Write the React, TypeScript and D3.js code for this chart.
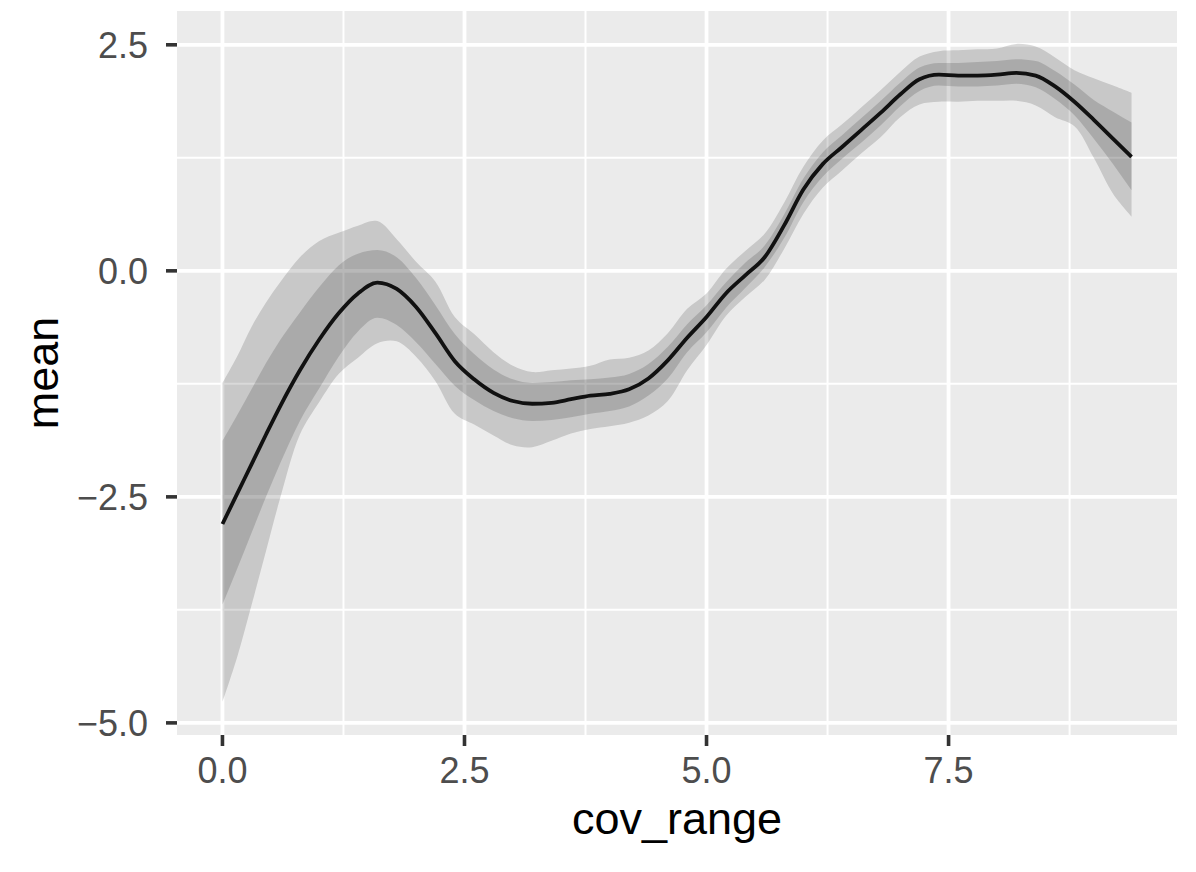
import React from "react";
import * as d3 from "d3";

const xs = [0, 0.15, 0.3, 0.45, 0.6, 0.8, 1.0, 1.2, 1.4, 1.6, 1.8, 2.0, 2.2, 2.4, 2.6, 2.8, 3.0, 3.2, 3.4, 3.6, 3.8, 4.0, 4.2, 4.4, 4.6, 4.8, 5.0, 5.2, 5.4, 5.6, 5.8, 6.0, 6.2, 6.4, 6.6, 6.8, 7.0, 7.2, 7.4, 7.6, 7.8, 8.0, 8.2, 8.4, 8.6, 8.8, 9.0, 9.2, 9.39];

const meanVals = [-2.80, -2.47, -2.14, -1.81, -1.49, -1.10, -0.76, -0.47, -0.25, -0.13, -0.20, -0.40, -0.69, -1.00, -1.20, -1.35, -1.44, -1.47, -1.46, -1.42, -1.38, -1.36, -1.31, -1.19, -0.99, -0.74, -0.51, -0.25, -0.05, 0.15, 0.50, 0.90, 1.18, 1.37, 1.56, 1.75, 1.95, 2.12, 2.17, 2.16, 2.16, 2.17, 2.19, 2.16, 2.04, 1.87, 1.67, 1.46, 1.26];

const innerUpper = [-1.88, -1.60, -1.31, -1.02, -0.76, -0.46, -0.18, 0.06, 0.19, 0.23, 0.15, -0.08, -0.38, -0.70, -0.92, -1.09, -1.20, -1.24, -1.23, -1.21, -1.20, -1.18, -1.14, -1.03, -0.84, -0.59, -0.38, -0.13, 0.09, 0.28, 0.62, 1.02, 1.31, 1.50, 1.69, 1.88, 2.08, 2.25, 2.30, 2.30, 2.31, 2.32, 2.34, 2.32, 2.21, 2.06, 1.89, 1.76, 1.64];

const innerLower = [-3.69, -3.30, -2.90, -2.50, -2.12, -1.66, -1.30, -0.95, -0.67, -0.52, -0.60, -0.79, -1.03, -1.27, -1.43, -1.55, -1.63, -1.66, -1.65, -1.62, -1.58, -1.55, -1.50, -1.38, -1.19, -0.90, -0.68, -0.41, -0.19, 0.04, 0.36, 0.76, 1.04, 1.24, 1.42, 1.61, 1.82, 1.99, 2.05, 2.04, 2.04, 2.05, 2.07, 2.03, 1.90, 1.72, 1.46, 1.18, 0.89];

const outerUpper = [-1.24, -0.95, -0.62, -0.35, -0.12, 0.15, 0.33, 0.42, 0.50, 0.55, 0.35, 0.10, -0.12, -0.51, -0.70, -0.90, -1.05, -1.12, -1.10, -1.08, -1.05, -0.98, -0.96, -0.88, -0.69, -0.42, -0.25, 0.02, 0.22, 0.41, 0.75, 1.15, 1.44, 1.62, 1.81, 2.00, 2.20, 2.37, 2.43, 2.44, 2.45, 2.46, 2.51, 2.48, 2.36, 2.22, 2.13, 2.05, 1.97];

const outerLower = [-4.77, -4.28, -3.70, -3.10, -2.50, -1.81, -1.45, -1.14, -0.96, -0.80, -0.78, -0.95, -1.22, -1.58, -1.70, -1.82, -1.93, -1.95, -1.88, -1.80, -1.75, -1.72, -1.68, -1.60, -1.44, -1.10, -0.82, -0.50, -0.29, -0.10, 0.24, 0.63, 0.92, 1.11, 1.30, 1.48, 1.70, 1.84, 1.87, 1.87, 1.88, 1.88, 1.88, 1.83, 1.70, 1.60, 1.25, 0.85, 0.60];

const xMajor = [0, 2.5, 5, 7.5];
const xMinor = [1.25, 3.75, 6.25, 8.75];
const yMajor = [-5, -2.5, 0, 2.5];
const yMinor = [-3.75, -1.25, 1.25];
const xTickLabels = ["0.0", "2.5", "5.0", "7.5"];
const yTickLabels = ["\u22125.0", "\u22122.5", "0.0", "2.5"];

const W = 1196;
const H = 872;
const panel = { left: 177, right: 1177, top: 11, bottom: 735 };

export default function App() {
  const xMin = d3.min(xs)!;
  const xMax = d3.max(xs)!;
  const xPad = (xMax - xMin) * 0.05;
  const yMin = d3.min(outerLower)!;
  const yMax = d3.max(outerUpper)!;
  const yPad = (yMax - yMin) * 0.05;

  const x = d3.scaleLinear().domain([xMin - xPad, xMax + xPad]).range([panel.left, panel.right]);
  const y = d3.scaleLinear().domain([yMin - yPad, yMax + yPad]).range([panel.bottom, panel.top]);

  const idx = xs.map((_, i) => i);
  const areaOuter = d3.area<number>()
    .x((i) => x(xs[i]))
    .y0((i) => y(outerLower[i]))
    .y1((i) => y(outerUpper[i]))
    .curve(d3.curveCatmullRom.alpha(0.5));
  const areaInner = d3.area<number>()
    .x((i) => x(xs[i]))
    .y0((i) => y(innerLower[i]))
    .y1((i) => y(innerUpper[i]))
    .curve(d3.curveMonotoneX);
  const line = d3.line<number>()
    .x((i) => x(xs[i]))
    .y((i) => y(meanVals[i]))
    .curve(d3.curveMonotoneX);

  const font = "'Liberation Sans', Arial, Helvetica, sans-serif";

  return (
    <div style={{ position: "absolute", left: 0, top: 0 }}>
      <svg width={W} height={H} style={{ display: "block", background: "#FFFFFF" }}>
        <rect x={panel.left} y={panel.top} width={panel.right - panel.left} height={panel.bottom - panel.top} fill="#EBEBEB" />
        {xMinor.map((v) => (
          <line key={"xm" + v} x1={x(v)} x2={x(v)} y1={panel.top} y2={panel.bottom} stroke="#FFFFFF" strokeWidth={2} />
        ))}
        {yMinor.map((v) => (
          <line key={"ym" + v} x1={panel.left} x2={panel.right} y1={y(v)} y2={y(v)} stroke="#FFFFFF" strokeWidth={2} />
        ))}
        {xMajor.map((v) => (
          <line key={"xM" + v} x1={x(v)} x2={x(v)} y1={panel.top} y2={panel.bottom} stroke="#FFFFFF" strokeWidth={3.8} />
        ))}
        {yMajor.map((v) => (
          <line key={"yM" + v} x1={panel.left} x2={panel.right} y1={y(v)} y2={y(v)} stroke="#FFFFFF" strokeWidth={3.8} />
        ))}
        <path d={areaOuter(idx) || ""} fill="#000000" fillOpacity={0.15} />
        <path d={areaInner(idx) || ""} fill="#000000" fillOpacity={0.15} />
        <path d={line(idx) || ""} fill="none" stroke="#111111" strokeWidth={3.8} strokeLinejoin="round" />

        {xMajor.map((v, i) => (
          <g key={"xt" + v}>
            <line x1={x(v)} x2={x(v)} y1={panel.bottom} y2={panel.bottom + 11} stroke="#333333" strokeWidth={3.6} />
            <text x={x(v)} y={783} textAnchor="middle" fontFamily={font} fontSize={36} fill="#4D4D4D">{xTickLabels[i]}</text>
          </g>
        ))}
        {yMajor.map((v, i) => (
          <g key={"yt" + v}>
            <line x1={panel.left - 11} x2={panel.left} y1={y(v)} y2={y(v)} stroke="#333333" strokeWidth={3.6} />
            <text x={148} y={y(v)} dy="0.36em" textAnchor="end" fontFamily={font} fontSize={36} fill="#4D4D4D">{yTickLabels[i]}</text>
          </g>
        ))}
        <text x={(panel.left + panel.right) / 2} y={834} textAnchor="middle" fontFamily={font} fontSize={45} fill="#000000">cov_range</text>
        <text transform={`translate(58, ${(panel.top + panel.bottom) / 2}) rotate(-90)`} textAnchor="middle" fontFamily={font} fontSize={45} fill="#000000">mean</text>
      </svg>
    </div>
  );
}
